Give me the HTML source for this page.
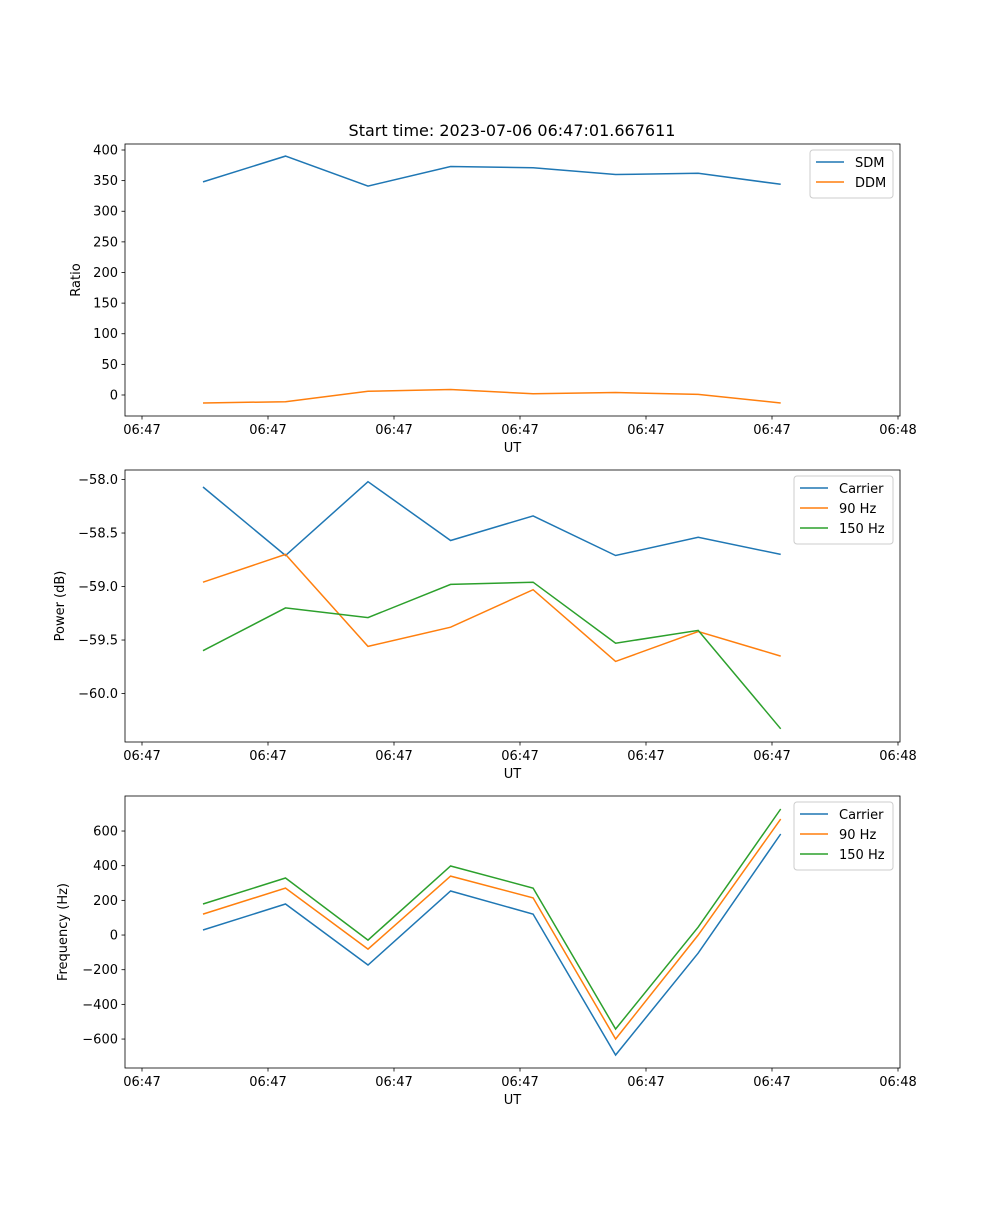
<!DOCTYPE html>
<html><head><meta charset="utf-8"><style>
body{margin:0;background:#fff;}
svg text{font-family:"DejaVu Sans","Liberation Sans",sans-serif;fill:#000;}
</style></head><body>
<svg id="fig" width="1000" height="1200" xmlns="http://www.w3.org/2000/svg">
<text x="512" y="136" font-size="16" text-anchor="middle">Start time: 2023-07-06 06:47:01.667611</text>
</svg>
<script>
const times = [4.84, 11.39, 17.94, 24.49, 31.04, 37.59, 44.14, 50.69];
const xTickSecs = [0, 10, 20, 30, 40, 50, 60];
const xTickLabels = ["06:47","06:47","06:47","06:47","06:47","06:47","06:48"];
const sdm = [348, 390, 341, 373, 371, 360, 362, 344];
const ddm = [-13, -11, 6, 9, 2, 4, 1, -13];
const ratioTicks = [0, 50, 100, 150, 200, 250, 300, 350, 400];
const powCarrier = [-58.07, -58.71, -58.02, -58.57, -58.34, -58.71, -58.54, -58.70];
const pow90 = [-58.96, -58.70, -59.56, -59.38, -59.03, -59.70, -59.42, -59.65];
const pow150 = [-59.60, -59.20, -59.29, -58.98, -58.96, -59.53, -59.41, -60.33];
const powTicks = [-58.0, -58.5, -59.0, -59.5, -60.0];
const powTickLabels = ["\u221258.0","\u221258.5","\u221259.0","\u221259.5","\u221260.0"];
const freqCarrier = [29, 179, -173, 254, 121, -692, -104, 583];
const freq90 = [121, 271, -81, 340, 214, -600, 0, 669];
const freq150 = [179, 329, -29, 398, 271, -542, 46, 727];
const freqTicks = [-600, -400, -200, 0, 200, 400, 600];
const freqTickLabels = ["\u2212600","\u2212400","\u2212200","0","200","400","600"];

const NS = "http://www.w3.org/2000/svg";
const svg = document.getElementById("fig");
const C = ["#1f77b4", "#ff7f0e", "#2ca02c"];
const L = 125, R = 900;
function xs(t){ return 142 + t * 12.6; }
function mk(tag, attrs, parent){ const e = document.createElementNS(NS, tag); for (const k in attrs) e.setAttribute(k, attrs[k]); (parent||svg).appendChild(e); return e; }

function panel(p){
  const g = mk("g", {});
  
  
  const ys = v => p.top + (p.ymax - v) / (p.ymax - p.ymin) * (p.bot - p.top);
  p.series.forEach((s, i) => {
    const pts = s.vals.map((v, j) => xs(times[j]).toFixed(1) + "," + ys(v).toFixed(1)).join(" ");
    const pl = mk("polyline", {points: pts, fill: "none", stroke: C[i], "stroke-width": 1.5}, g);
    
    
  });
  const fr = mk("rect", {x: L, y: p.top, width: R - L, height: p.bot - p.top, fill: "none", stroke: "#000", "stroke-width": 0.8}, g);
  
  
  xTickSecs.forEach((t, i) => {
    const x = xs(t);
    mk("line", {x1: x, x2: x, y1: p.bot, y2: p.bot + 3.5, stroke: "#000", "stroke-width": 0.8}, g);
    const tx = mk("text", {x: x, y: p.bot + 18, "font-size": 13, "text-anchor": "middle"}, g);
    tx.textContent = xTickLabels[i];
    
    
  });
  const xl = mk("text", {x: (L + R) / 2, y: p.bot + 36, "font-size": 13, "text-anchor": "middle"}, g);
  xl.textContent = "UT";
  
  
  p.yt.forEach((v, i) => {
    const y = ys(v);
    mk("line", {x1: L, x2: L - 3.5, y1: y, y2: y, stroke: "#000", "stroke-width": 0.8}, g);
    const tx = mk("text", {x: L - 7, y: y + 4.5, "font-size": 13, "text-anchor": "end"}, g);
    tx.textContent = p.ytl[i];
    
    
  });
  const yl = mk("text", {x: p.ylx, y: (p.top + p.bot) / 2, "font-size": 13, "text-anchor": "middle", transform: `rotate(-90 ${p.ylx} ${(p.top + p.bot) / 2})`}, g);
  yl.textContent = p.ylabel;
  
  
  const lw = p.lw, lx = R - 7 - lw, ly = p.top + 6, lh = 8 + p.series.length * 20;
  const lg = mk("g", {}, g);
  
  
  mk("rect", {x: lx, y: ly, width: lw, height: lh, rx: 3, fill: "#fff", "fill-opacity": 0.8, stroke: "#ccc", "stroke-width": 1}, lg);
  p.series.forEach((s, i) => {
    const yy = ly + 12 + i * 20;
    mk("line", {x1: lx + 6, x2: lx + 34, y1: yy, y2: yy, stroke: C[i], "stroke-width": 1.5}, lg);
    const tx = mk("text", {x: lx + 45, y: yy + 5, "font-size": 13}, lg);
    tx.textContent = s.label;
    
    
  });
}

panel({name: "ratio-panel", top: 144, bot: 416, ymin: -34.3, ymax: 409.8, yt: ratioTicks, ytl: ratioTicks.map(String), ylabel: "Ratio", ylx: 80, lw: 83,
  series: [{id: "sdm", label: "SDM", vals: sdm}, {id: "ddm", label: "DDM", vals: ddm}]});
panel({name: "power-panel", top: 470, bot: 742, ymin: -60.453, ymax: -57.911, yt: powTicks, ytl: powTickLabels, ylabel: "Power (dB)", ylx: 64, lw: 99,
  series: [{id: "carrier", label: "Carrier", vals: powCarrier}, {id: "hz90", label: "90 Hz", vals: pow90}, {id: "hz150", label: "150 Hz", vals: pow150}]});
panel({name: "frequency-panel", top: 796, bot: 1068, ymin: -767, ymax: 802, yt: freqTicks, ytl: freqTickLabels, ylabel: "Frequency (Hz)", ylx: 67, lw: 99,
  series: [{id: "carrier", label: "Carrier", vals: freqCarrier}, {id: "hz90", label: "90 Hz", vals: freq90}, {id: "hz150", label: "150 Hz", vals: freq150}]});
</script>
</body></html>
